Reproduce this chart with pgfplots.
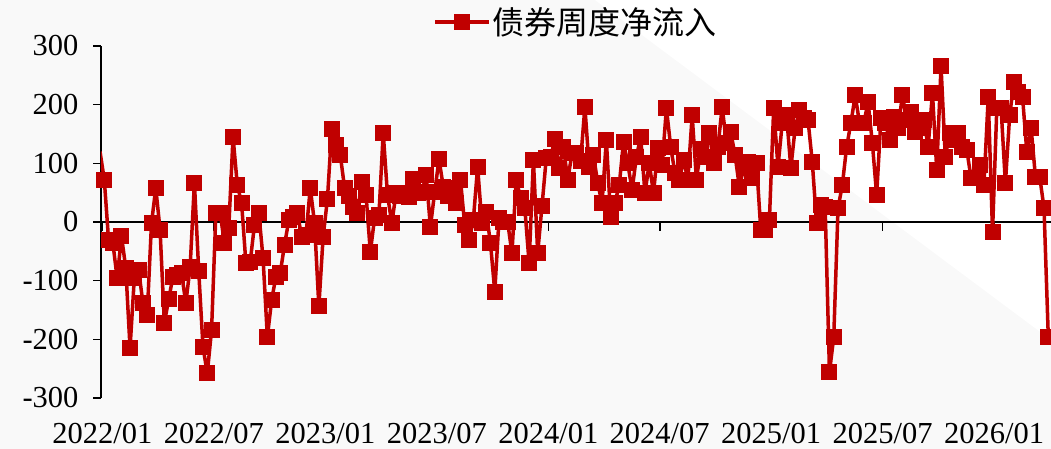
\documentclass[border=0pt]{standalone}
\usepackage{pgfplots}
\pgfplotsset{compat=1.18}
\usepackage{pgfplotstable}
\usepackage{fontspec}
\setmainfont{Liberation Serif}
\newfontfamily\cjk{Noto Sans CJK SC}
\definecolor{sred}{RGB}{192,0,0}
\definecolor{bgg}{RGB}{249,249,249}

\pgfplotstableread{
i v
0 72
1 -31
2 -36
3 -96
4 -24
5 -78
6 -215
7 -95
8 -82
9 -138
10 -158
11 -2
12 58
13 -14
14 -172
15 -132
16 -93
17 -90
18 -87
19 -138
20 -77
21 67
22 -83
23 -213
24 -258
25 -184
26 15
27 15
28 -36
29 -11
30 145
31 63
32 32
33 -70
34 -68
35 -5
36 16
37 -62
38 -196
39 -133
40 -93
41 -87
42 -39
43 3
44 8
45 15
46 -25
47 -22
48 58
49 -2
50 -144
51 -25
52 39
53 158
54 131
55 114
56 58
57 44
58 26
59 16
60 68
61 46
62 -51
63 7
64 12
65 152
66 46
67 -2
68 49
69 45
70 49
71 43
72 73
73 49
74 51
75 80
76 -8
77 51
78 107
79 60
80 45
81 58
82 32
83 72
84 -5
85 -31
86 3
87 94
88 -2
89 17
90 -36
91 -119
92 7
93 0
94 0
95 -53
96 72
97 41
98 24
99 -70
100 106
101 -53
102 27
103 109
104 110
105 141
106 92
107 128
108 72
109 117
110 117
111 104
112 196
113 94
114 114
115 66
116 32
117 140
118 9
119 32
120 63
121 136
122 100
123 54
124 111
125 145
126 49
127 100
128 49
129 126
130 97
131 194
132 128
133 83
134 72
135 106
136 72
137 182
138 72
139 125
140 110
141 152
142 100
143 128
144 196
145 134
146 153
147 114
148 60
149 92
150 102
151 75
152 100
153 -14
154 -14
155 3
156 194
157 94
158 169
159 182
160 92
161 160
162 191
163 177
164 174
165 102
166 -2
167 29
168 25
169 -256
170 -196
171 24
172 63
173 128
174 169
175 216
176 169
177 169
178 204
179 134
180 46
181 177
182 169
183 140
184 179
185 160
186 216
187 174
188 188
189 153
190 160
191 174
192 128
193 220
194 89
195 266
196 111
197 151
198 140
199 151
200 128
201 123
202 75
203 75
204 97
205 63
206 213
207 -17
208 194
209 194
210 66
211 182
212 239
213 222
214 213
215 119
216 160
217 77
218 77
219 24
220 -196
}\bonddata

\begin{document}
\begin{tikzpicture}
\useasboundingbox (-101bp,-51bp) rectangle (950bp,398bp);
\fill[bgg] (-101bp,-51bp) rectangle (950bp,398bp);
\fill[white] (494bp,398bp) -- (950bp,398bp) -- (950bp,58bp) -- cycle;
% ticks on the zero line (drawn below the data)
\foreach \k in {0,...,8}{
  \draw[black, line width=1.5bp] ({1.4bp+\k*111.47bp},176bp) -- ({1.4bp+\k*111.47bp},167bp);
}
\begin{axis}[
  at={(0,0)}, anchor=south west,
  scale only axis, width=950bp, height=352bp,
  xmin=-0.77, xmax=220.63, ymin=-300, ymax=300,
  axis y line*=left, axis x line*=bottom,
  x axis line style={draw=none},
  y axis line style={line width=1.5bp, black},
  xtick={-0.44,25.54,51.51,77.49,103.47,129.44,155.42,181.40,207.37},
  xticklabels={2022/01,2022/07,2023/01,2023/07,2024/01,2024/07,2025/01,2025/07,2026/01},
  x tick style={draw=none},
  ytick={-300,-200,-100,0,100,200,300},
  y tick style={line width=1.5bp, black},
  tick align=outside,
  major tick length=8bp,
  ticklabel style={font=\fontsize{30.5bp}{36bp}\selectfont},
  x tick label style={yshift=-14bp},
  y tick label style={xshift=-11bp},
  /pgf/number format/assume math mode=true,
  clip mode=individual,
  legend style={at={(0.5,1.068)}, anchor=center, draw=none, fill=none,
    font=\cjk\fontsize{32bp}{38bp}\selectfont},
  legend image code/.code={\draw[#1, mark repeat=2, mark phase=2] plot coordinates {(0bp,0bp) (27bp,0bp) (54bp,0bp)};},
]
\draw[black, line width=1.5bp] (axis cs:-0.77,0) -- (axis cs:220.63,0);
\addplot[sred, line width=3.5bp, no marks, forget plot] coordinates {(-1,120) (0,72)};
\addplot[sred, line width=3.5bp, line join=round, mark=square*, mark size=7.5bp,
  mark options={solid, fill=sred, draw=sred, line width=0pt}]
  table[x=i, y=v] {\bonddata};
\addlegendentry{债券周度净流入}
\end{axis}
\end{tikzpicture}
\end{document}
